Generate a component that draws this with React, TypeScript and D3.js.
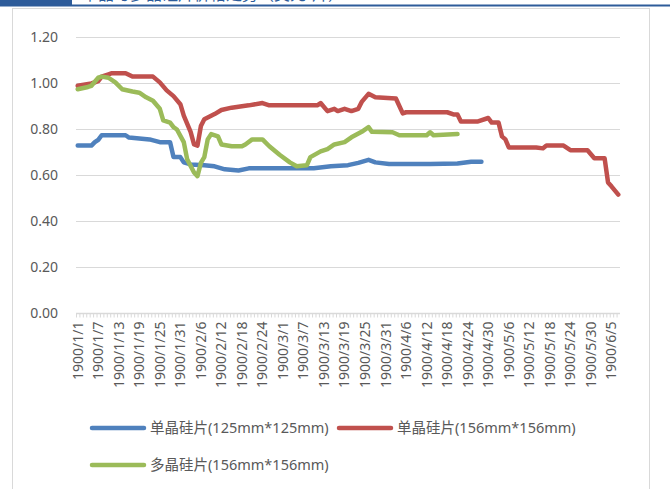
import React from 'react';
import * as d3 from 'd3';

// ── Categories: Excel 1900 date serials (with the 1900/2/29 leap-year quirk) ──
const MONTH_DAYS = [31, 29, 31, 30, 31, 30];
const DAY_COUNT = 159;
const categories: string[] = [];
for (let m = 0; m < MONTH_DAYS.length && categories.length < DAY_COUNT; m++) {
  for (let d = 1; d <= MONTH_DAYS[m] && categories.length < DAY_COUNT; d++) {
    categories.push(`1900/${m + 1}/${d}`);
  }
}
const LABEL_STEP = 6;

const yTicks = [0, 0.2, 0.4, 0.6, 0.8, 1.0, 1.2];

// ── Series: [day number, price] ──────────────────────────────────────────────
const mono125: [number, number][] = [
  [1, 0.73], [5, 0.73], [6, 0.745], [7, 0.755], [8, 0.775], [15, 0.775], [16, 0.765],
  [22, 0.757], [25, 0.745], [28, 0.745], [29, 0.68], [31, 0.68], [32, 0.657], [34, 0.648],
  [38, 0.645], [41, 0.64], [44, 0.627], [48, 0.622], [51, 0.631], [63, 0.632], [70, 0.632],
  [75, 0.64], [80, 0.645], [83, 0.655], [86, 0.668], [88, 0.657], [92, 0.65], [104, 0.65],
  [112, 0.652], [116, 0.66], [119, 0.66],
];

const mono156: [number, number][] = [
  [1, 0.99], [5, 1.0], [7, 1.01], [8, 1.03], [10, 1.04], [11, 1.045], [15, 1.045], [17, 1.03],
  [23, 1.03], [25, 1.005], [27, 0.97], [29, 0.945], [31, 0.91], [32, 0.86], [34, 0.79],
  [35, 0.735], [36, 0.73], [37, 0.815], [38, 0.845], [41, 0.867], [43, 0.885], [46, 0.895],
  [51, 0.905], [55, 0.915], [57, 0.905], [71, 0.905], [72, 0.915], [74, 0.88], [76, 0.89],
  [77, 0.88], [79, 0.89], [81, 0.88], [83, 0.89], [84, 0.92], [86, 0.955], [88, 0.94],
  [94, 0.935], [96, 0.87], [97, 0.875], [109, 0.875], [111, 0.865], [112, 0.865],
  [113, 0.835], [118, 0.835], [121, 0.85], [122, 0.83], [124, 0.83], [125, 0.77],
  [126, 0.757], [127, 0.722], [135, 0.722], [137, 0.718], [138, 0.73], [143, 0.73],
  [145, 0.71], [150, 0.71], [152, 0.675], [155, 0.675], [156, 0.57], [157, 0.553], [159, 0.517],
];

const poly156: [number, number][] = [
  [1, 0.975], [4, 0.985], [5, 0.99], [7, 1.025], [8, 1.03], [10, 1.025], [12, 1.005],
  [14, 0.975], [17, 0.965], [19, 0.96], [21, 0.94], [23, 0.925], [25, 0.89], [26, 0.84],
  [28, 0.83], [29, 0.81], [30, 0.8], [32, 0.745], [33, 0.67], [35, 0.613], [36, 0.597],
  [37, 0.655], [38, 0.68], [39, 0.757], [40, 0.78], [42, 0.77], [43, 0.735], [46, 0.727],
  [49, 0.727], [50, 0.735], [52, 0.757], [55, 0.757], [57, 0.727], [60, 0.69], [63, 0.657],
  [65, 0.64], [68, 0.645], [69, 0.68], [72, 0.705], [74, 0.715], [76, 0.735], [79, 0.745],
  [81, 0.766], [84, 0.79], [86, 0.81], [87, 0.79], [93, 0.788], [95, 0.775], [103, 0.775],
  [104, 0.788], [105, 0.775], [112, 0.78],
];

const SERIES = [
  { name: '单晶硅片(125mm*125mm)', color: '#4F81BD', data: mono125 },
  { name: '单晶硅片(156mm*156mm)', color: '#C0504D', data: mono156 },
  { name: '多晶硅片(156mm*156mm)', color: '#9BBB59', data: poly156 },
];

// ── Layout ───────────────────────────────────────────────────────────────────
const W = 670;
const H = 489;
const PLOT = { left: 76, right: 620, top: 37.5, bottom: 313.5 };
const FONT = '"Noto Sans", "Noto Sans CJK SC", sans-serif';
const TEXT = '#595959';
const GRID = '#d9d9d9';

export default function App() {
  const x = d3.scaleBand<string>().domain(categories).range([PLOT.left, PLOT.right]);
  const y = d3.scaleLinear().domain([0, 1.2]).range([PLOT.bottom, PLOT.top]);
  const cx = (day: number) => (x(categories[day - 1]) ?? 0) + x.bandwidth() / 2;

  const line = d3
    .line<[number, number]>()
    .x((d) => cx(d[0]))
    .y((d) => y(d[1]));

  const fmt = d3.format('.2f');

  const legendRows = [
    { s: SERIES[0], lx: 92, ty: 428 },
    { s: SERIES[1], lx: 339, ty: 428 },
    { s: SERIES[2], lx: 92, ty: 465 },
  ];

  return (
    <div style={{ position: 'absolute', left: 0, top: 0 }}>
      <svg width={W} height={H} style={{ display: 'block', background: '#fff', fontFamily: FONT }}>
        {/* header strip (title mostly above the visible area, as in the source) */}
        <text x={82} y={-14} fontSize={16} fill="#2E5C9A" dominantBaseline="hanging">
          单晶与多晶硅片价格走势（美元/片）
        </text>
        <rect x={0} y={0} width={72} height={6} fill="#2E5C9A" />
        <rect x={0} y={4.5} width={W} height={2} fill="#2E5C9A" />

        {/* chart frame */}
        <rect x={12.5} y={8.5} width={637} height={H + 10} fill="none" stroke={GRID} />

        {/* gridlines + y labels */}
        {yTicks.map((t) => (
          <g key={t}>
            {t > 0 && (
              <line x1={PLOT.left} x2={PLOT.right} y1={y(t)} y2={y(t)} stroke={GRID} strokeWidth={1} />
            )}
            <text x={58} y={y(t)} dy="0.35em" textAnchor="end" fontSize={14} fill={TEXT}>
              {fmt(t)}
            </text>
          </g>
        ))}

        {/* x axis */}
        <line x1={PLOT.left} x2={PLOT.right} y1={PLOT.bottom} y2={PLOT.bottom} stroke={GRID} strokeWidth={1.5} />
        {categories.map((c) => (
          <line
            key={c}
            x1={(x(c) ?? 0) + 0.5}
            x2={(x(c) ?? 0) + 0.5}
            y1={PLOT.bottom}
            y2={PLOT.bottom + 4}
            stroke={GRID}
            strokeWidth={1}
          />
        ))}
        {categories.map((c, i) =>
          i % LABEL_STEP === 0 ? (
            <text
              key={c}
              transform={`translate(${cx(i + 1)},${PLOT.bottom + 8}) rotate(-90)`}
              textAnchor="end"
              dy="0.35em"
              fontSize={14}
              fill={TEXT}
            >
              {c}
            </text>
          ) : null,
        )}

        {/* series */}
        {SERIES.map((s) => (
          <path
            key={s.name}
            d={line(s.data) ?? ''}
            fill="none"
            stroke={s.color}
            strokeWidth={4.5}
            strokeLinejoin="round"
            strokeLinecap="round"
          />
        ))}

        {/* legend */}
        {legendRows.map(({ s, lx, ty }) => (
          <g key={s.name}>
            <line x1={lx} x2={lx + 52} y1={ty} y2={ty} stroke={s.color} strokeWidth={4.5} strokeLinecap="round" />
            <text x={lx + 58} y={ty} dy="0.35em" fontSize={14.5} fill={TEXT}>
              {s.name}
            </text>
          </g>
        ))}
      </svg>
    </div>
  );
}
